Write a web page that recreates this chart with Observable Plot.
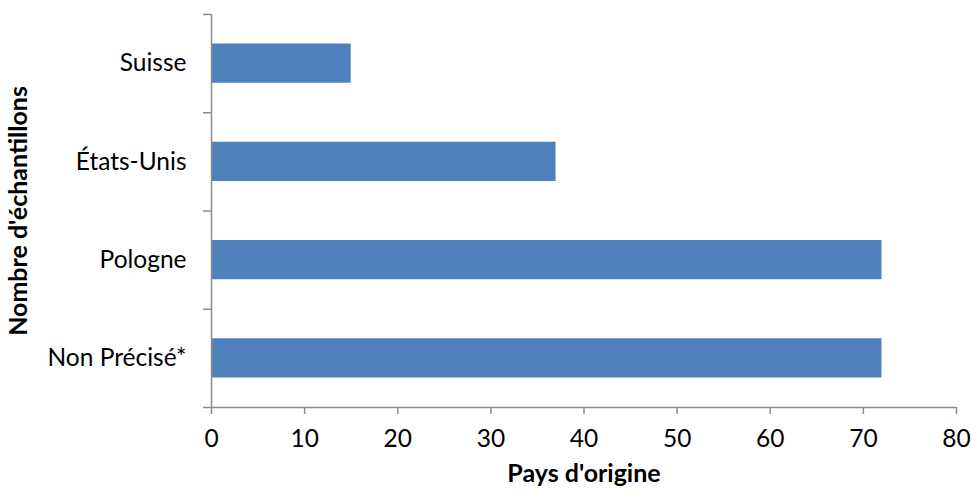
<!DOCTYPE html>
<html>
<head>
<meta charset="utf-8">
<script src="https://cdn.jsdelivr.net/npm/d3@7"></script>
<script src="https://cdn.jsdelivr.net/npm/@observablehq/plot@0.6"></script>
<style>
  html, body { margin: 0; padding: 0; background: #fff; }
  #chart svg { display: block; }
</style>
</head>
<body>
<div id="chart"></div>
<script>
const categories = ["Suisse", "États-Unis", "Pologne", "Non Précisé*"];
const values = [15, 37, 72, 72];
const xTicks = [0, 10, 20, 30, 40, 50, 60, 70, 80];
const xTitle = "Pays d'origine";
const yTitle = "Nombre d'échantillons";

const data = categories.map((c, i) => ({category: c, index: i, value: values[i]}));
const boundaries = d3.range(categories.length + 1);
const centers = categories.map((c, i) => i + 0.5);

const axisColor = "#8c8c8c";
const font = "Lato, 'Open Sans', sans-serif";

const chart = Plot.plot({
  width: 971,
  height: 495,
  marginLeft: 211,
  marginRight: 15,
  marginTop: 14,
  marginBottom: 88,
  style: {fontFamily: font, fontSize: "24px", color: "#000", background: "#fff"},
  x: {type: "linear", domain: [0, 80]},
  y: {type: "linear", domain: [0, categories.length], reverse: true},
  marks: [
    Plot.rectX(data, {x1: 0, x2: "value", y1: "index", y2: (d) => d.index + 1, fill: "#4f81bd", insetTop: 29.5, insetBottom: 29.5}),
    Plot.ruleX([0], {stroke: axisColor, strokeWidth: 1.5}),
    Plot.ruleY([categories.length], {stroke: axisColor, strokeWidth: 1.5}),
    Plot.axisY(boundaries, {tickSize: 8, tickFormat: () => "", stroke: axisColor, strokeWidth: 1.5, label: null}),
    Plot.axisY(centers, {tickSize: 0, tickPadding: 25, tickFormat: (d) => categories[Math.floor(d)], label: null, fill: "#000", fontSize: 24.5}),
    Plot.axisX(xTicks, {tickSize: 7, tickPadding: 15, stroke: axisColor, strokeWidth: 1.5, fill: "#000", label: null, fontSize: 24.5}),
    Plot.text([xTitle], {frameAnchor: "bottom", dy: 74, fontWeight: "bold", fontSize: 25, fill: "#000"}),
    Plot.text([yTitle], {frameAnchor: "left", textAnchor: "middle", dx: -193, rotate: -90, fontWeight: "bold", fontSize: 25, fill: "#000"})
  ]
});
document.getElementById("chart").append(chart);
</script>
</body>
</html>
